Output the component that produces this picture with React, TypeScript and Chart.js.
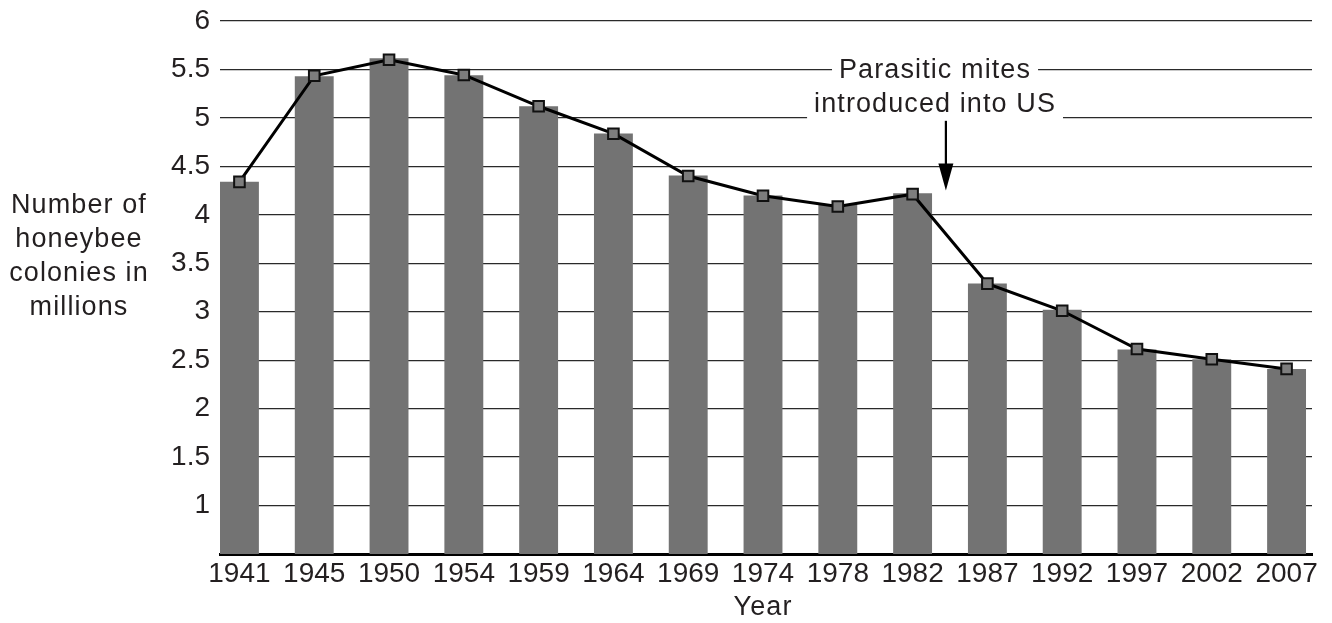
import { useEffect, useRef } from 'react';
import { Chart, registerables } from 'chart.js';

Chart.register(...registerables);

const years = ['1941', '1945', '1950', '1954', '1959', '1964', '1969', '1974', '1978', '1982', '1987', '1992', '1997', '2002', '2007'];
const colonies = [4.34, 5.43, 5.615, 5.44, 5.12, 4.84, 4.405, 4.2, 4.11, 4.223, 3.29, 3.02, 2.61, 2.51, 2.41];
const trend = [4.34, 5.435, 5.6, 5.443, 5.12, 4.837, 4.4, 4.197, 4.086, 4.213, 3.29, 3.01, 2.615, 2.51, 2.41];
const yAxisTitle = ['Number of', 'honeybee', 'colonies in', 'millions'];
const xAxisTitle = 'Year';
const noteLines = ['Parasitic mites', 'introduced into US'];

// annotation anchor (in scale units)
const NOTE_X = 9.3;
const NOTE_Y = 5.5;
const ARROW_X = 9.445;
const ARROW_FROM = 4.97;
const ARROW_TO = 4.25;

const FONT = '"Liberation Sans", Arial, Helvetica, sans-serif';
const FS = 27;
const TICK_FS = 28;
const TEXT = '#231f20';
const BAR = '#737373';
const GRID = '#2a2a2a';

const annotate = {
  id: 'annotate',
  afterDraw(chart: any) {
    const { ctx, scales, chartArea } = chart;
    const x = scales.x;
    const y = scales.y;
    ctx.save();
    ctx.font = `${FS}px ${FONT}`;
    try { (ctx as any).letterSpacing = '1.1px'; } catch (e) { /* ignore */ }
    ctx.textAlign = 'center';
    ctx.textBaseline = 'middle';

    // note text with white mask
    const cx = x.getPixelForValue(NOTE_X);
    const cy0 = y.getPixelForValue(NOTE_Y);
    noteLines.forEach((t, i) => {
      const cy = cy0 + i * 34;
      const w = ctx.measureText(t).width;
      ctx.fillStyle = '#fff';
      ctx.fillRect(cx - w / 2 - 7, cy - 17, w + 14, 34);
      ctx.fillStyle = TEXT;
      ctx.fillText(t, cx, cy + 1);
    });

    // arrow
    const ax = x.getPixelForValue(ARROW_X);
    const ay0 = y.getPixelForValue(ARROW_FROM);
    const ay1 = y.getPixelForValue(ARROW_TO);
    const head = 27;
    ctx.strokeStyle = '#000';
    ctx.lineWidth = 2.2;
    ctx.beginPath();
    ctx.moveTo(ax, ay0);
    ctx.lineTo(ax, ay1 - head + 2);
    ctx.stroke();
    ctx.fillStyle = '#000';
    ctx.beginPath();
    ctx.moveTo(ax - 7.5, ay1 - head);
    ctx.lineTo(ax + 7.5, ay1 - head);
    ctx.lineTo(ax, ay1);
    ctx.closePath();
    ctx.fill();

    // y axis title (horizontal, multi-line)
    ctx.fillStyle = TEXT;
    yAxisTitle.forEach((t, i) => {
      ctx.fillText(t, 79, chartArea.top + 185 + i * 34);
    });

    // x axis title
    ctx.fillText(xAxisTitle, (chartArea.left + chartArea.right) / 2 - 3, chartArea.bottom + 54);
    ctx.restore();
  },
};

export default function App() {
  const ref = useRef<HTMLCanvasElement | null>(null);

  useEffect(() => {
    if (!ref.current) return;
    const chart = new Chart(ref.current, {
      type: 'bar',
      data: {
        datasets: [
          {
            type: 'line',
            data: trend.map((v, i) => ({ x: i, y: v })),
            borderColor: '#000',
            borderWidth: 3,
            tension: 0,
            pointStyle: 'rect',
            pointRadius: 7.5,
            pointBackgroundColor: '#7d7d7d',
            pointBorderColor: '#111',
            pointBorderWidth: 2,
            order: 0,
          } as any,
          {
            type: 'bar',
            data: colonies.map((v, i) => ({ x: i, y: v })),
            backgroundColor: BAR,
            borderWidth: 0,
            barPercentage: 0.52,
            categoryPercentage: 1,
            order: 1,
          } as any,
        ],
      },
      options: {
        animation: false,
        responsive: false,
        maintainAspectRatio: false,
        layout: { padding: { top: 21, right: 20, left: 0, bottom: 0 } },
        plugins: {
          legend: { display: false },
          tooltip: { enabled: false },
        },
        scales: {
          x: {
            type: 'linear',
            offset: false,
            bounds: 'data',
            min: -0.26,
            max: 14.34,
            afterBuildTicks: (axis: any) => {
              axis.ticks = years.map((_, i) => ({ value: i }));
            },
            afterFit: (scale: any) => {
              scale.height = 69;
              scale.paddingLeft = 0;
              scale.paddingRight = 0;
            },
            ticks: {
              autoSkip: false,
              maxRotation: 0,
              padding: 3,
              color: TEXT,
              font: { family: FONT, size: TICK_FS },
              callback: (v: any) => years[v] ?? '',
            },
            grid: { display: false, drawTicks: false, offset: false },
            border: { display: true, color: '#000', width: 3 },
            title: { display: false },
          },
          y: {
            type: 'linear',
            min: 0.5,
            max: 6,
            afterFit: (scale: any) => {
              scale.width = 220;
              scale.paddingTop = 0;
              scale.paddingBottom = 0;
            },
            ticks: {
              stepSize: 0.5,
              padding: 10,
              color: TEXT,
              font: { family: FONT, size: TICK_FS },
              callback: (v: any) => (v === 0.5 ? '' : String(v)),
            },
            grid: { color: GRID, lineWidth: 1.3, drawTicks: false },
            border: { display: false },
          },
        },
      },
      plugins: [annotate],
    });
    return () => chart.destroy();
  }, []);

  return (
    <div style={{ position: 'fixed', left: 0, top: 0, width: 1332, height: 623, background: '#fff' }}>
      <canvas ref={ref} width={1332} height={623} />
    </div>
  );
}
